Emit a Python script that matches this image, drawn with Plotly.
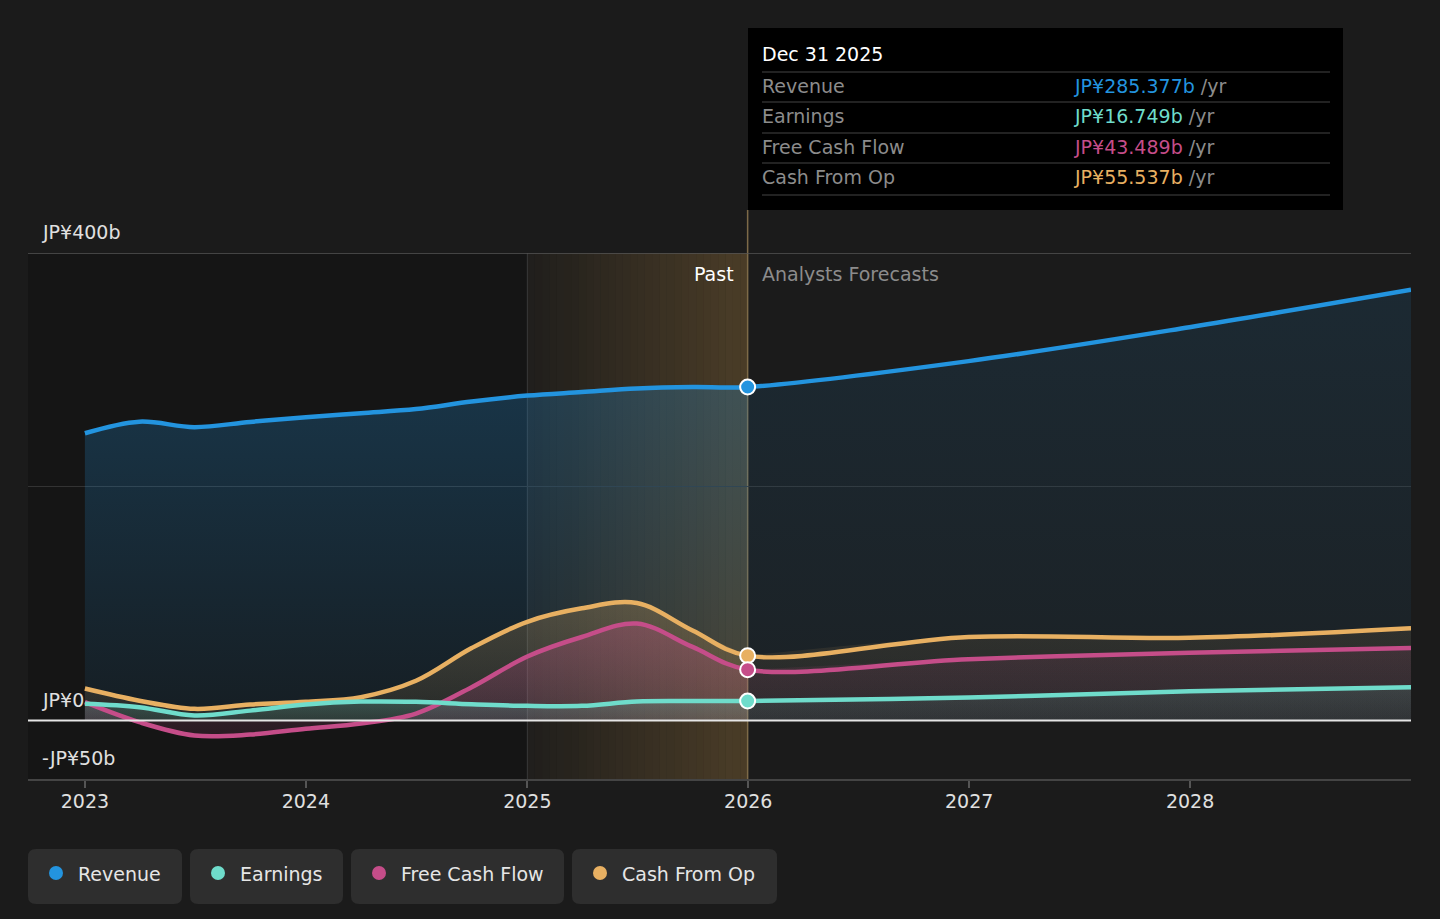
import pandas as pd
import plotly.graph_objects as go

# chart data (JP¥ billions)
past_dates = ["2023-01-01", "2023-04-01", "2023-07-01", "2023-10-01",
              "2024-01-01", "2024-04-01", "2024-07-01", "2024-10-01",
              "2025-01-01", "2025-04-01", "2025-07-01", "2025-10-01", "2025-12-31"]
fc_dates = ["2025-12-31", "2026-12-31", "2027-12-31", "2028-12-31"]

revenue_past = [245.8, 255.7, 251.0, 255.5, 259.5, 263.0, 266.5, 273.0, 278.0, 281.0, 284.0, 285.3, 285.377]
earnings_past = [14.3, 11.4, 4.3, 8.5, 13.7, 16.2, 16.0, 14.0, 12.6, 12.6, 16.3, 16.7, 16.749]
fcf_past = [15.7, -1.4, -12.8, -12.0, -7.0, -2.6, 6.0, 28.5, 54.8, 71.5, 83.0, 63.0, 43.489]
cfo_past = [27.4, 17.0, 10.0, 13.7, 16.0, 20.0, 34.0, 62.0, 84.5, 96.0, 100.5, 77.0, 55.537]

revenue_fc = [285.377, 307.5, 336.5, 368.5]
earnings_fc = [16.749, 19.7, 25.0, 28.5]
fcf_fc = [43.489, 52.5, 58.0, 62.0]
cfo_fc = [55.537, 71.5, 70.8, 79.0]

series_names = ["Revenue", "Earnings", "Free Cash Flow", "Cash From Op"]
tooltip_values = ["JP¥285.377b", "JP¥16.749b", "JP¥43.489b", "JP¥55.537b"]
y_tick_vals = [400, 0, -50]
y_tick_text = ["JP¥400b", "JP¥0", "-JP¥50b"]

colors = {"Revenue": "#2394df", "Earnings": "#6fdccb",
          "Free Cash Flow": "#c54d89", "Cash From Op": "#e8b062"}
rgb = {"Revenue": "35,148,223", "Earnings": "111,220,203",
       "Free Cash Flow": "197,77,137", "Cash From Op": "232,176,98"}

BG = "#1b1b1b"
FONT = "DejaVu Sans"
FS = 19
W, H = 1440, 919
L, R, T, B = 28, 1411, 253, 779
x_range = ["2022-09-29", "2028-12-31"]


def px(x):
    return (x - L) / (R - L)


def py(y):
    return (B - y) / (B - T)


def date_paper(d):
    t0, t1 = pd.Timestamp(x_range[0]), pd.Timestamp(x_range[1])
    return (pd.Timestamp(d) - t0) / (t1 - t0)


def rounded_box(x0, y0, x1, y1, r):
    pts = [
        f"M{px(x0 + r)},{py(y0)}", f"L{px(x1 - r)},{py(y0)}",
        f"Q{px(x1)},{py(y0)} {px(x1)},{py(y0 + r)}", f"L{px(x1)},{py(y1 - r)}",
        f"Q{px(x1)},{py(y1)} {px(x1 - r)},{py(y1)}", f"L{px(x0 + r)},{py(y1)}",
        f"Q{px(x0)},{py(y1)} {px(x0)},{py(y1 - r)}", f"L{px(x0)},{py(y0 + r)}",
        f"Q{px(x0)},{py(y0)} {px(x0 + r)},{py(y0)}", "Z",
    ]
    return " ".join(pts)


data = {
    "Revenue": (revenue_past, revenue_fc),
    "Earnings": (earnings_past, earnings_fc),
    "Free Cash Flow": (fcf_past, fcf_fc),
    "Cash From Op": (cfo_past, cfo_fc),
}

fig = go.Figure()

# area fills (past brighter, forecast dimmer)
fill_alpha = {"Revenue": (0.07, 0.25, 0.05, 0.12),
              "Cash From Op": (0.08, 0.22, 0.04, 0.10),
              "Free Cash Flow": (0.12, 0.30, 0.06, 0.12),
              "Earnings": (0.10, 0.20, 0.06, 0.12)}
for name in ["Revenue", "Cash From Op", "Free Cash Flow", "Earnings"]:
    past, fc = data[name]
    a0, a1, b0, b1 = fill_alpha[name]
    c = rgb[name]
    fig.add_trace(go.Scatter(
        x=past_dates, y=past, mode="lines", fill="tozeroy",
        line=dict(width=0, shape="spline"),
        fillgradient=dict(type="vertical",
                          colorscale=[[0, f"rgba({c},{a0})"], [1, f"rgba({c},{a1})"]]),
        hoverinfo="skip", showlegend=False))
    fig.add_trace(go.Scatter(
        x=fc_dates, y=fc, mode="lines", fill="tozeroy",
        line=dict(width=0, shape="spline"),
        fillgradient=dict(type="vertical",
                          colorscale=[[0, f"rgba({c},{b0})"], [1, f"rgba({c},{b1})"]]),
        hoverinfo="skip", showlegend=False))

# lines
for name in ["Revenue", "Cash From Op", "Free Cash Flow", "Earnings"]:
    past, fc = data[name]
    fig.add_trace(go.Scatter(
        x=past_dates + fc_dates[1:], y=past + fc[1:], mode="lines",
        line=dict(color=colors[name], width=4.5, shape="spline"),
        name=name, showlegend=False))

# markers at the latest reported point
for name in ["Revenue", "Cash From Op", "Free Cash Flow", "Earnings"]:
    past, _ = data[name]
    fig.add_trace(go.Scatter(
        x=[past_dates[-1]], y=[past[-1]], mode="markers",
        marker=dict(size=15, color=colors[name], line=dict(color="white", width=2)),
        hoverinfo="skip", showlegend=False))

shapes = []
# darker past region up to 2025
shapes.append(dict(type="rect", xref="x", yref="paper", x0=x_range[0], x1="2025-01-01",
                   y0=0, y1=1, fillcolor="rgba(0,0,0,0.22)", line_width=0, layer="below"))
# past band gradient 2025 -> 2026
t0, t1 = pd.Timestamp("2025-01-01"), pd.Timestamp("2025-12-31")
n = 30
for i in range(n):
    a = t0 + (t1 - t0) * i / n
    b = t0 + (t1 - t0) * (i + 1) / n
    alpha = 0.03 + 0.25 * (i + 0.5) / n
    shapes.append(dict(type="rect", xref="x", yref="paper", x0=a, x1=b, y0=0, y1=1,
                       fillcolor=f"rgba(200,150,72,{alpha:.3f})", line_width=0, layer="below"))
shapes.append(dict(type="line", xref="x", yref="paper", x0="2025-01-01", x1="2025-01-01",
                   y0=0, y1=1, line=dict(color="#3a3a3a", width=1), layer="below"))
# top line at 400
shapes.append(dict(type="line", xref="paper", yref="y", x0=0, x1=1, y0=400, y1=400,
                   line=dict(color="#555555", width=1.5)))
# zero line
shapes.append(dict(type="line", xref="paper", yref="y", x0=0, x1=1, y0=0, y1=0,
                   line=dict(color="#e6e6e6", width=2)))
# divider line at today
xd = date_paper("2025-12-31")
shapes.append(dict(type="line", xref="paper", yref="paper", x0=xd, x1=xd, y0=0, y1=py(210),
                   line=dict(color="#7d6a48", width=1.5), layer="below"))

# tooltip box
shapes.append(dict(type="rect", xref="paper", yref="paper", x0=px(748), x1=px(1343),
                   y0=py(210), y1=py(28), fillcolor="#000000", line_width=0))
for yy in [72, 102, 133, 163, 195]:
    shapes.append(dict(type="line", xref="paper", yref="paper", x0=px(762), x1=px(1330),
                       y0=py(yy), y1=py(yy), line=dict(color="#444444", width=1.2)))

# legend boxes
legend_boxes = [(28, 182), (190, 343), (351, 564), (572, 777)]
for (bx0, bx1), name in zip(legend_boxes, series_names):
    shapes.append(dict(type="path", xref="paper", yref="paper",
                       path=rounded_box(bx0, 849, bx1, 904, 8),
                       fillcolor="#2e2e2e", line_width=0))
    cx = bx0 + 28
    shapes.append(dict(type="circle", xref="paper", yref="paper",
                       x0=px(cx - 7), x1=px(cx + 7), y0=py(880), y1=py(866),
                       fillcolor=colors[name], line_width=0))

annotations = []
for v, t in zip(y_tick_vals, y_tick_text):
    annotations.append(dict(x=px(42), y=v, xref="paper", yref="y", text=t,
                            showarrow=False, xanchor="left", yanchor="middle", yshift=21,
                            xshift=-2, font=dict(family=FONT, size=FS, color="#e0e0e0")))
annotations.append(dict(x=xd, y=py(274), xref="paper", yref="paper", text="Past",
                        showarrow=False, xanchor="right", yanchor="middle", xshift=-12,
                        font=dict(family=FONT, size=FS, color="#ffffff")))
annotations.append(dict(x=xd, y=py(274), xref="paper", yref="paper", text="Analysts Forecasts",
                        showarrow=False, xanchor="left", yanchor="middle", xshift=12,
                        font=dict(family=FONT, size=FS, color="#8c8c8c")))
annotations.append(dict(x=px(762), y=py(54), xref="paper", yref="paper", text="Dec 31 2025",
                        showarrow=False, xanchor="left", yanchor="middle", xshift=-2,
                        font=dict(family=FONT, size=FS, color="#ffffff")))
for yy, name, val in zip([86, 116, 147, 177], series_names, tooltip_values):
    annotations.append(dict(x=px(762), y=py(yy), xref="paper", yref="paper", text=name,
                            showarrow=False, xanchor="left", yanchor="middle", xshift=-2,
                            font=dict(family=FONT, size=FS, color="#8c8c8c")))
    annotations.append(dict(x=px(1074), y=py(yy), xref="paper", yref="paper",
                            text=f"<span style='color:{colors[name]}'>{val}</span> /yr",
                            showarrow=False, xanchor="left", yanchor="middle", xshift=-2,
                            font=dict(family=FONT, size=FS, color="#8c8c8c")))
for (bx0, bx1), name in zip(legend_boxes, series_names):
    annotations.append(dict(x=px(bx0 + 50), y=py(874), xref="paper", yref="paper", text=name,
                            showarrow=False, xanchor="left", yanchor="middle", xshift=-2,
                            font=dict(family=FONT, size=FS, color="#e6e6e6")))

fig.update_layout(
    width=W, height=H,
    paper_bgcolor=BG, plot_bgcolor=BG,
    margin=dict(l=L, r=W - R, t=T, b=H - B, pad=0),
    font=dict(family=FONT, size=FS, color="#e0e0e0"),
    shapes=shapes, annotations=annotations,
    showlegend=False, hovermode=False,
    xaxis=dict(type="date", range=x_range, showgrid=False, zeroline=False,
               showline=True, linecolor="#444444", linewidth=1.5,
               ticks="outside", ticklen=7, tickcolor="#555555", tickwidth=1.5,
               ticklabelstandoff=-3,
               tick0="2023-01-01", dtick="M12", tickformat="%Y",
               tickfont=dict(family=FONT, size=FS, color="#e0e0e0")),
    yaxis=dict(range=[-50, 400], tickvals=[200], showticklabels=False,
               showgrid=True, gridcolor="#333333", gridwidth=1,
               zeroline=False, showline=False),
)

fig.write_html("out.html", config={"displayModeBar": False},
               post_script="document.body.style.margin='0';"
                           "document.body.style.background='#1b1b1b';")
